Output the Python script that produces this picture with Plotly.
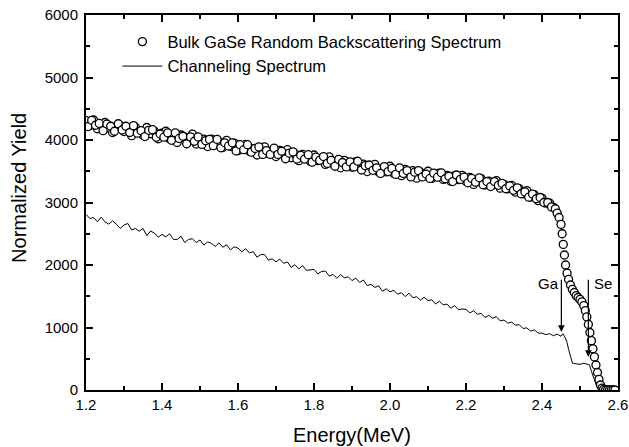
import numpy as np
import plotly.graph_objects as go

# ---------------- data ----------------
# Random backscattering spectrum, grid 1.200 .. 2.430 MeV (step 0.01)
random_energy_a = np.round(np.arange(1.20, 2.435, 0.01), 3)
random_yield_a = [
    4310, 4230, 4320, 4180, 4240, 4280, 4190, 4120, 4220, 4230,
    4135, 4185, 4070, 4205, 4135, 4080, 4200, 4100, 4140, 4020,
    4110, 4140, 4020, 4060, 3960, 4080, 4045, 3985, 4095, 3935,
    3995, 4015, 3895, 4015, 3925, 3965, 3880, 3995, 3900, 3950,
    3830, 3900, 3930, 3820, 3860, 3760, 3875, 3890, 3785, 3825,
    3735, 3835, 3765, 3845, 3715, 3775, 3670, 3770, 3730, 3660,
    3760, 3670, 3710, 3610, 3730, 3620, 3660, 3555, 3675, 3615,
    3565, 3655, 3565, 3615, 3495, 3585, 3610, 3490, 3540, 3490,
    3580, 3465, 3515, 3430, 3530, 3465, 3510, 3390, 3485, 3425,
    3500, 3385, 3435, 3470, 3370, 3435, 3340, 3430, 3365, 3435,
    3340, 3400, 3290, 3360, 3380, 3280, 3340, 3280, 3350, 3230,
    3290, 3220, 3275, 3165, 3220, 3140, 3190, 3085, 3125, 3030,
    3070, 2990, 2990, 2920,
]
# Random spectrum, interleaved half-step points 1.205 .. 2.425 MeV
random_energy_b = np.round(np.arange(1.205, 2.43, 0.01), 3)
random_yield_b = [
    4215, 4315, 4236, 4265, 4150, 4255, 4220, 4140, 4260, 4160,
    4220, 4120, 4230, 4110, 4150, 4055, 4155, 4165, 4045, 4095,
    4045, 4115, 3995, 4115, 4025, 4060, 3940, 4050, 3980, 4050,
    3930, 3990, 4010, 3910, 4010, 3875, 3955, 3905, 3955, 3825,
    3925, 3845, 3925, 3805, 3865, 3890, 3770, 3830, 3770, 3870,
    3770, 3820, 3700, 3790, 3810, 3695, 3755, 3695, 3765, 3645,
    3725, 3675, 3735, 3625, 3675, 3580, 3690, 3640, 3570, 3650,
    3570, 3660, 3520, 3590, 3600, 3515, 3555, 3465, 3575, 3495,
    3545, 3450, 3555, 3465, 3510, 3410, 3485, 3510, 3410, 3455,
    3385, 3470, 3405, 3475, 3380, 3420, 3335, 3440, 3370, 3405,
    3315, 3385, 3325, 3395, 3285, 3335, 3255, 3335, 3275, 3305,
    3220, 3265, 3195, 3235, 3140, 3170, 3085, 3135, 3060, 3080,
    3000, 3000, 2930,
]
# Random spectrum at the high-energy edge (Ga and Se edges)
random_energy_edge = [
    2.435, 2.440, 2.445, 2.450, 2.453, 2.456, 2.459, 2.462, 2.466, 2.470,
    2.475, 2.480, 2.485, 2.490, 2.495, 2.500, 2.505, 2.510, 2.514, 2.518,
    2.522, 2.526, 2.530, 2.534, 2.538, 2.542, 2.546, 2.550, 2.554, 2.558,
    2.562, 2.567, 2.572, 2.577, 2.582, 2.587, 2.592,
]
random_yield_edge = [
    2900, 2830, 2760, 2650, 2500, 2330, 2160, 2000, 1870, 1770,
    1680, 1610, 1560, 1510, 1480, 1450, 1410, 1350, 1270, 1170,
    1050, 920, 790, 660, 530, 400, 280, 170, 80, 30,
    10, 0, 0, 0, 0, 0, 0,
]

# Channeling spectrum, grid 1.20 .. 2.45 MeV (step 0.01)
chan_energy_grid = np.round(np.arange(1.20, 2.455, 0.01), 3)
chan_yield_grid = [
    2810, 2744, 2758, 2692, 2766, 2690, 2654, 2708, 2652, 2586,
    2640, 2665, 2560, 2585, 2540, 2585, 2470, 2545, 2510, 2445,
    2490, 2450, 2500, 2410, 2410, 2460, 2360, 2410, 2420, 2360,
    2400, 2319, 2368, 2347, 2296, 2355, 2284, 2323, 2242, 2291,
    2270, 2211, 2262, 2193, 2214, 2125, 2166, 2167, 2078, 2099,
    2050, 2093, 2026, 2049, 1962, 2005, 1938, 1991, 1914, 1927,
    1930, 1858, 1896, 1904, 1822, 1850, 1788, 1846, 1794, 1812,
    1750, 1790, 1720, 1760, 1670, 1690, 1640, 1670, 1580, 1620,
    1570, 1596, 1532, 1558, 1494, 1550, 1476, 1492, 1438, 1484,
    1430, 1443, 1376, 1419, 1362, 1375, 1308, 1351, 1284, 1297,
    1290, 1234, 1268, 1212, 1226, 1160, 1194, 1148, 1172, 1106,
    1120, 1069, 1088, 1037, 1046, 985, 994, 943, 962, 911,
    910, 886, 902, 868, 894, 860,
]
chan_energy_edge = [
    2.455, 2.460, 2.465, 2.470, 2.475, 2.480, 2.490, 2.500, 2.510, 2.520,
    2.525, 2.530, 2.535, 2.540, 2.545, 2.550, 2.560, 2.570, 2.580, 2.590, 2.600,
]
chan_yield_edge = [
    900, 850, 780, 650, 520, 430, 420, 410, 430, 410,
    400, 300, 200, 100, 40, 10, 0, 0, 0, 0, 0,
]

random_energy = list(random_energy_a) + list(random_energy_b) + random_energy_edge
random_yield = random_yield_a + random_yield_b + random_yield_edge
chan_energy = list(chan_energy_grid) + chan_energy_edge
chan_yield = chan_yield_grid + chan_yield_edge

series_names = ["Bulk GaSe Random Backscattering Spectrum", "Channeling Spectrum"]
x_ticks = [1.2, 1.4, 1.6, 1.8, 2.0, 2.2, 2.4, 2.6]
y_ticks = [0, 1000, 2000, 3000, 4000, 5000, 6000]

# Edge markers (label, energy, arrow top, arrow tip)
edge_labels = ["Ga", "Se"]
edge_energy = [2.451, 2.522]
edge_top = [1790, 1790]
edge_tip = [930, 530]

# ---------------- figure ----------------
FONT = "Liberation Sans, Arial, sans-serif"
fig = go.Figure()

fig.add_trace(go.Scatter(
    x=chan_energy, y=chan_yield, mode="lines", name=series_names[1],
    line=dict(color="black", width=1),
))
fig.add_trace(go.Scatter(
    x=random_energy, y=random_yield, mode="markers", name=series_names[0],
    marker=dict(symbol="circle", size=8, color="white",
                line=dict(color="black", width=1.3)),
))

axis_common = dict(
    showline=True, linecolor="black", linewidth=2, mirror="ticks",
    ticks="inside", ticklen=7, tickwidth=1.5, tickcolor="black",
    showgrid=False, zeroline=False, automargin=False,
    tickfont=dict(family=FONT, size=15, color="black"),
)
fig.update_xaxes(range=[1.2, 2.6], tickvals=x_ticks,
                 ticktext=[f"{v:.1f}" for v in x_ticks],
                 minor=dict(ticks="inside", ticklen=4, dtick=0.1, tickcolor="black", tickwidth=1.5),
                 **axis_common)
fig.update_yaxes(range=[0, 6000], tickvals=y_ticks, ticklabelstandoff=3,
                 minor=dict(ticks="inside", ticklen=4, dtick=500, tickcolor="black", tickwidth=1.5),
                 **axis_common)

for lab, e, top, tip in zip(edge_labels, edge_energy, edge_top, edge_tip):
    fig.add_annotation(x=e, y=tip, ax=e, ay=top, xref="x", yref="y",
                       axref="x", ayref="y", text="", showarrow=True,
                       arrowhead=2, arrowsize=1.1, arrowwidth=1.2, arrowcolor="black")
fig.add_annotation(x=edge_energy[0], y=1712, xref="x", yref="y", text=edge_labels[0],
                   showarrow=False, xanchor="right", xshift=0,
                   font=dict(family=FONT, size=15, color="black"))
fig.add_annotation(x=edge_energy[1], y=1712, xref="x", yref="y", text=edge_labels[1],
                   showarrow=False, xanchor="left", xshift=4,
                   font=dict(family=FONT, size=15, color="black"))

# axis titles
fig.add_annotation(x=0.5, y=0, xref="paper", yref="paper", yshift=-45,
                   text="Energy(MeV)", showarrow=False, yanchor="middle",
                   font=dict(family=FONT, size=20, color="black"))
fig.add_annotation(x=0, y=0.539, xref="paper", yref="paper", xshift=-67,
                   text="Normalized Yield", showarrow=False, textangle=-90,
                   xanchor="center", yanchor="middle",
                   font=dict(family=FONT, size=20, color="black"))

fig.update_layout(
    width=629, height=447,
    margin=dict(l=86, r=11, t=15, b=57),
    paper_bgcolor="white", plot_bgcolor="white",
    showlegend=True,
    legend=dict(x=0.059, y=0.975, xanchor="left", yanchor="top",
                bgcolor="rgba(0,0,0,0)", traceorder="reversed",
                font=dict(family=FONT, size=16.5, color="black"),
                itemwidth=40, tracegroupgap=0),
)

fig.write_html("out.html")
